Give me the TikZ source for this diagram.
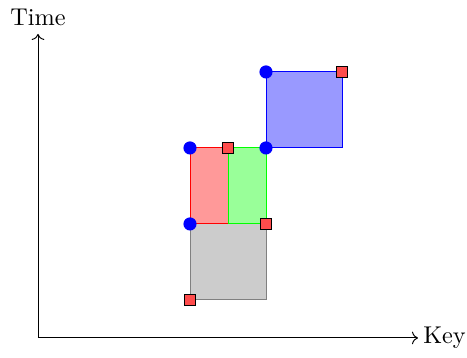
\documentclass[tikz,border=0pt]{standalone}
\usepackage{tikz}
\usetikzlibrary{arrows.meta}

\begin{document}
\begin{tikzpicture}[
        x=1.1cm, y=1.1cm,
        block/.style={line width=0.4pt},
        lower/.style={circle, fill=blue, inner sep=0pt, minimum size=1.9mm},
        upper/.style={rectangle, draw=black, fill=red!70, inner sep=0pt, minimum size=1.5mm, line width=0.4pt},
        axislabel/.style={font=\normalsize, inner sep=2pt},
        >=To
      ]
      \useasboundingbox (-0.5,-0.263) rectangle (5.645,4.447);
      % axes
      \coordinate (origin) at (0,0);
      \coordinate (keyEnd) at (5,0);
      \coordinate (timeEnd) at (0,4);
      \node[axislabel, right] (keyLabel) at (keyEnd) {Key};
      \node[axislabel, above, yshift=1pt] (timeLabel) at (timeEnd) {Time};
      \draw[->] (origin) -- (keyEnd);
      \draw[->] (origin) -- (timeEnd);
      % boxes
      \draw[block, draw=gray, fill=gray!40] (2,0.5) rectangle (3,1.5);
      \draw[block, draw=red, fill=red!40] (2,1.5) rectangle (2.5,2.5);
      \draw[block, draw=green, fill=green!40] (2.5,1.5) rectangle (3,2.5);
      \draw[block, draw=blue, fill=blue!40] (3,2.5) rectangle (4,3.5);
      % corner points
      \node[lower] (lowA) at (2,1.5) {};
      \node[lower] (lowB) at (2,2.5) {};
      \node[lower] (lowC) at (3,2.5) {};
      \node[lower] (lowD) at (3,3.5) {};
      \node[upper] (upA) at (2,0.5) {};
      \node[upper] (upB) at (3,1.5) {};
      \node[upper] (upC) at (2.5,2.5) {};
      \node[upper] (upD) at (4,3.5) {};
    \end{tikzpicture}
\end{document}
